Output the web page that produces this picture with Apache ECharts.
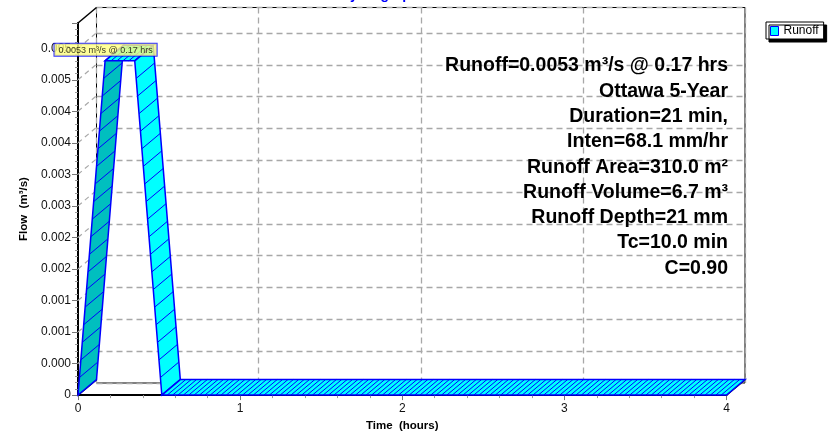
<!DOCTYPE html>
<html><head><meta charset="utf-8">
<script src="https://cdn.jsdelivr.net/npm/echarts@6/dist/echarts.min.js"></script>
<style>html,body{margin:0;padding:0;background:#fff}#c{width:839px;height:437px}</style>
</head><body><div id="c"></div>
<script>
// ---- data ----
const timeHours = [0, 0.167, 0.35, 0.517, 4.0];
const flowCms   = [0, 0.0053, 0.0053, 0, 0];
const yTickLabels = ['0','0.000','0.001','0.001','0.002','0.002','0.003','0.003','0.004','0.004','0.005','0.005'];
const xTickLabels = ['0','1','2','3','4'];
const peakFlow = 0.0053, peakTime = 0.17;
const notes = ['Runoff=0.0053 m³/s @ 0.17 hrs','Ottawa 5-Year','Duration=21 min,','Inten=68.1 mm/hr','Runoff Area=310.0 m²','Runoff Volume=6.7 m³','Runoff Depth=21 mm','Tc=10.0 min','C=0.90'];
const yMax = 0.0059, yStep = 0.0005, xMax = 4, xStep = 1;

// ---- layout ----
const DX = 18.5, DY = -15.5;
const FONT = '"Liberation Sans", Arial, Helvetica, sans-serif';
const GRID_DASH = '#A8A8A8';

const segs = [];
for (let i = 0; i < timeHours.length - 1; i++) segs.push([timeHours[i], flowCms[i], timeHours[i+1], flowCms[i+1]]);
const wallTicks = [];
for (let k = 1; k * yStep < yMax - 1e-9; k++) wallTicks.push([0, k * yStep]);
const frameCorners = [[0, yMax], [0, 0], [xMax, 0]];

function yFmt(v){ const i = Math.round(v / yStep); if (Math.abs(i*yStep - v) > 1e-9) return ''; return yTickLabels[i] ?? ''; }
function xFmt(v){ const i = Math.round(v / xStep); if (Math.abs(i*xStep - v) > 1e-9) return ''; return xTickLabels[i] ?? ''; }

function ribbon(params, api){
  const p1 = api.coord([api.value(0), api.value(1)]);
  const p2 = api.coord([api.value(2), api.value(3)]);
  const b1 = [p1[0]+DX, p1[1]+DY], b2 = [p2[0]+DX, p2[1]+DY];
  const rising = api.value(3) > api.value(1);
  const pts = [p1, p2, b2, b1];
  const ch = [{type:'polygon', shape:{points:pts}, style:{fill: rising ? '#00BFBF' : '#00FFFF', stroke:null}}];
  const ddx = p2[0]-p1[0], ddy = p2[1]-p1[1];
  const n = Math.max(1, Math.round(Math.max(Math.abs(ddx)/5.4, Math.abs(ddy)/18)));
  for (let i = 1; i < n; i++){
    const x = p1[0]+ddx*i/n, y = p1[1]+ddy*i/n;
    ch.push({type:'line', shape:{x1:x, y1:y, x2:x+DX, y2:y+DY}, style:{stroke:'#0000FF', lineWidth:1}});
  }
  ch.push({type:'polygon', shape:{points:pts}, style:{fill:null, stroke:'#0000FF', lineWidth:1.5}});
  return {type:'group', children:ch};
}
function wall(params, api){
  const p = api.coord([api.value(0), api.value(1)]);
  return {type:'line', shape:{x1:p[0], y1:p[1], x2:p[0]+DX, y2:p[1]+DY}, style:{stroke:GRID_DASH, lineWidth:1.2, lineDash:[5,4]}};
}
function frame(params, api){
  const p = api.coord([api.value(0), api.value(1)]);
  return {type:'line', shape:{x1:p[0], y1:p[1], x2:p[0]+DX, y2:p[1]+DY}, style:{stroke:'#000', lineWidth:1.5}};
}

const chart = echarts.init(document.getElementById('c'), null, {renderer:'canvas'});
chart.setOption({
  animation:false,
  backgroundColor:'#fff',
  textStyle:{fontFamily:FONT},
  title:{text:'Hydrograph', left:335, top:-17, textStyle:{color:'#0000FF', fontSize:14, fontWeight:'bold', fontFamily:FONT}},
  legend:{
    data:['Runoff'], left:766, top:22, orient:'vertical',
    icon:'rect', itemWidth:8, itemHeight:9, itemGap:0,
    padding:[3,5,2,4], backgroundColor:'#fff', borderColor:'#000', borderWidth:1,
    shadowColor:'#000', shadowBlur:0, shadowOffsetX:3, shadowOffsetY:3,
    textStyle:{fontSize:12, color:'#000', fontFamily:FONT},
    itemStyle:{borderColor:'#0000FF', borderWidth:1}
  },
  grid:[
    {left:78, top:23, right:112.5, bottom:38.5, show:false},
    {left:96.5, top:7.5, right:94, bottom:54, show:true, borderColor:'#000', borderWidth:1, backgroundColor:'transparent'}
  ],
  xAxis:[
    {type:'value', gridIndex:0, min:0, max:xMax, interval:xStep,
     axisLine:{show:true, onZero:false, lineStyle:{color:'#000', width:2}},
     axisTick:{show:true, length:5, lineStyle:{color:'#777'}},
     minorTick:{show:true, splitNumber:5, length:3, lineStyle:{color:'#999'}},
     axisLabel:{formatter:xFmt, fontSize:12, color:'#111', margin:8, fontFamily:FONT},
     splitLine:{show:false},
     name:'Time  (hours)', nameLocation:'middle', nameGap:22,
     nameTextStyle:{fontSize:11.5, fontWeight:'bold', color:'#000', fontFamily:FONT}},
    {type:'value', gridIndex:1, min:0, max:xMax, interval:xStep,
     axisLine:{show:false}, axisTick:{show:false}, axisLabel:{show:false},
     splitLine:{show:true, lineStyle:{color:GRID_DASH, type:[6,4], width:1.3}}}
  ],
  yAxis:[
    {type:'value', gridIndex:0, min:0, max:yMax, interval:yStep,
     axisLine:{show:true, onZero:false, lineStyle:{color:'#000', width:2}},
     axisTick:{show:true, length:6, lineStyle:{color:'#777'}},
     minorTick:{show:true, splitNumber:5, length:3, lineStyle:{color:'#999'}},
     axisLabel:{formatter:yFmt, fontSize:12, color:'#111', margin:7, showMaxLabel:false, fontFamily:FONT},
     splitLine:{show:false},
     name:'Flow  (m³/s)', nameLocation:'middle', nameGap:42, nameRotate:90,
     nameTextStyle:{fontSize:11.5, fontWeight:'bold', color:'#000', fontFamily:FONT}},
    {type:'value', gridIndex:1, min:0, max:yMax, interval:yStep,
     axisLine:{show:false}, axisTick:{show:false}, axisLabel:{show:false},
     splitLine:{show:true, lineStyle:{color:GRID_DASH, type:[6,4], width:1.3}}}
  ],
  series:[
    {type:'custom', name:'wall', xAxisIndex:0, yAxisIndex:0, data:wallTicks, renderItem:wall, silent:true, z:1},
    {type:'custom', name:'frame', xAxisIndex:0, yAxisIndex:0, data:frameCorners, renderItem:frame, silent:true, z:1},
    {type:'custom', name:'Runoff', xAxisIndex:0, yAxisIndex:0, data:segs, renderItem:ribbon, silent:true, z:3,
     itemStyle:{color:'#00FFFF', borderColor:'#0000FF', borderWidth:1}},
    {type:'scatter', name:'peak', xAxisIndex:0, yAxisIndex:0, data:[[peakTime, peakFlow]], symbolSize:0, silent:true, z:5,
     label:{show:true, position:'top', distance:5,
       formatter:() => peakFlow + ' m³/s @ ' + peakTime + ' hrs',
       backgroundColor:'#FFFF80', borderColor:'#0000FF', borderWidth:1, padding:[2,4,1,4],
       fontSize:9, color:'#000', fontFamily:FONT}}
  ],
  graphic: notes.map((t, i) => ({
    type:'text', x:728, y:66 + i*25.3, z:10, silent:true,
    style:{text:t, align:'right', verticalAlign:'middle', font:'bold 19.5px ' + FONT, fill:'#000'}
  }))
});
</script></body></html>
